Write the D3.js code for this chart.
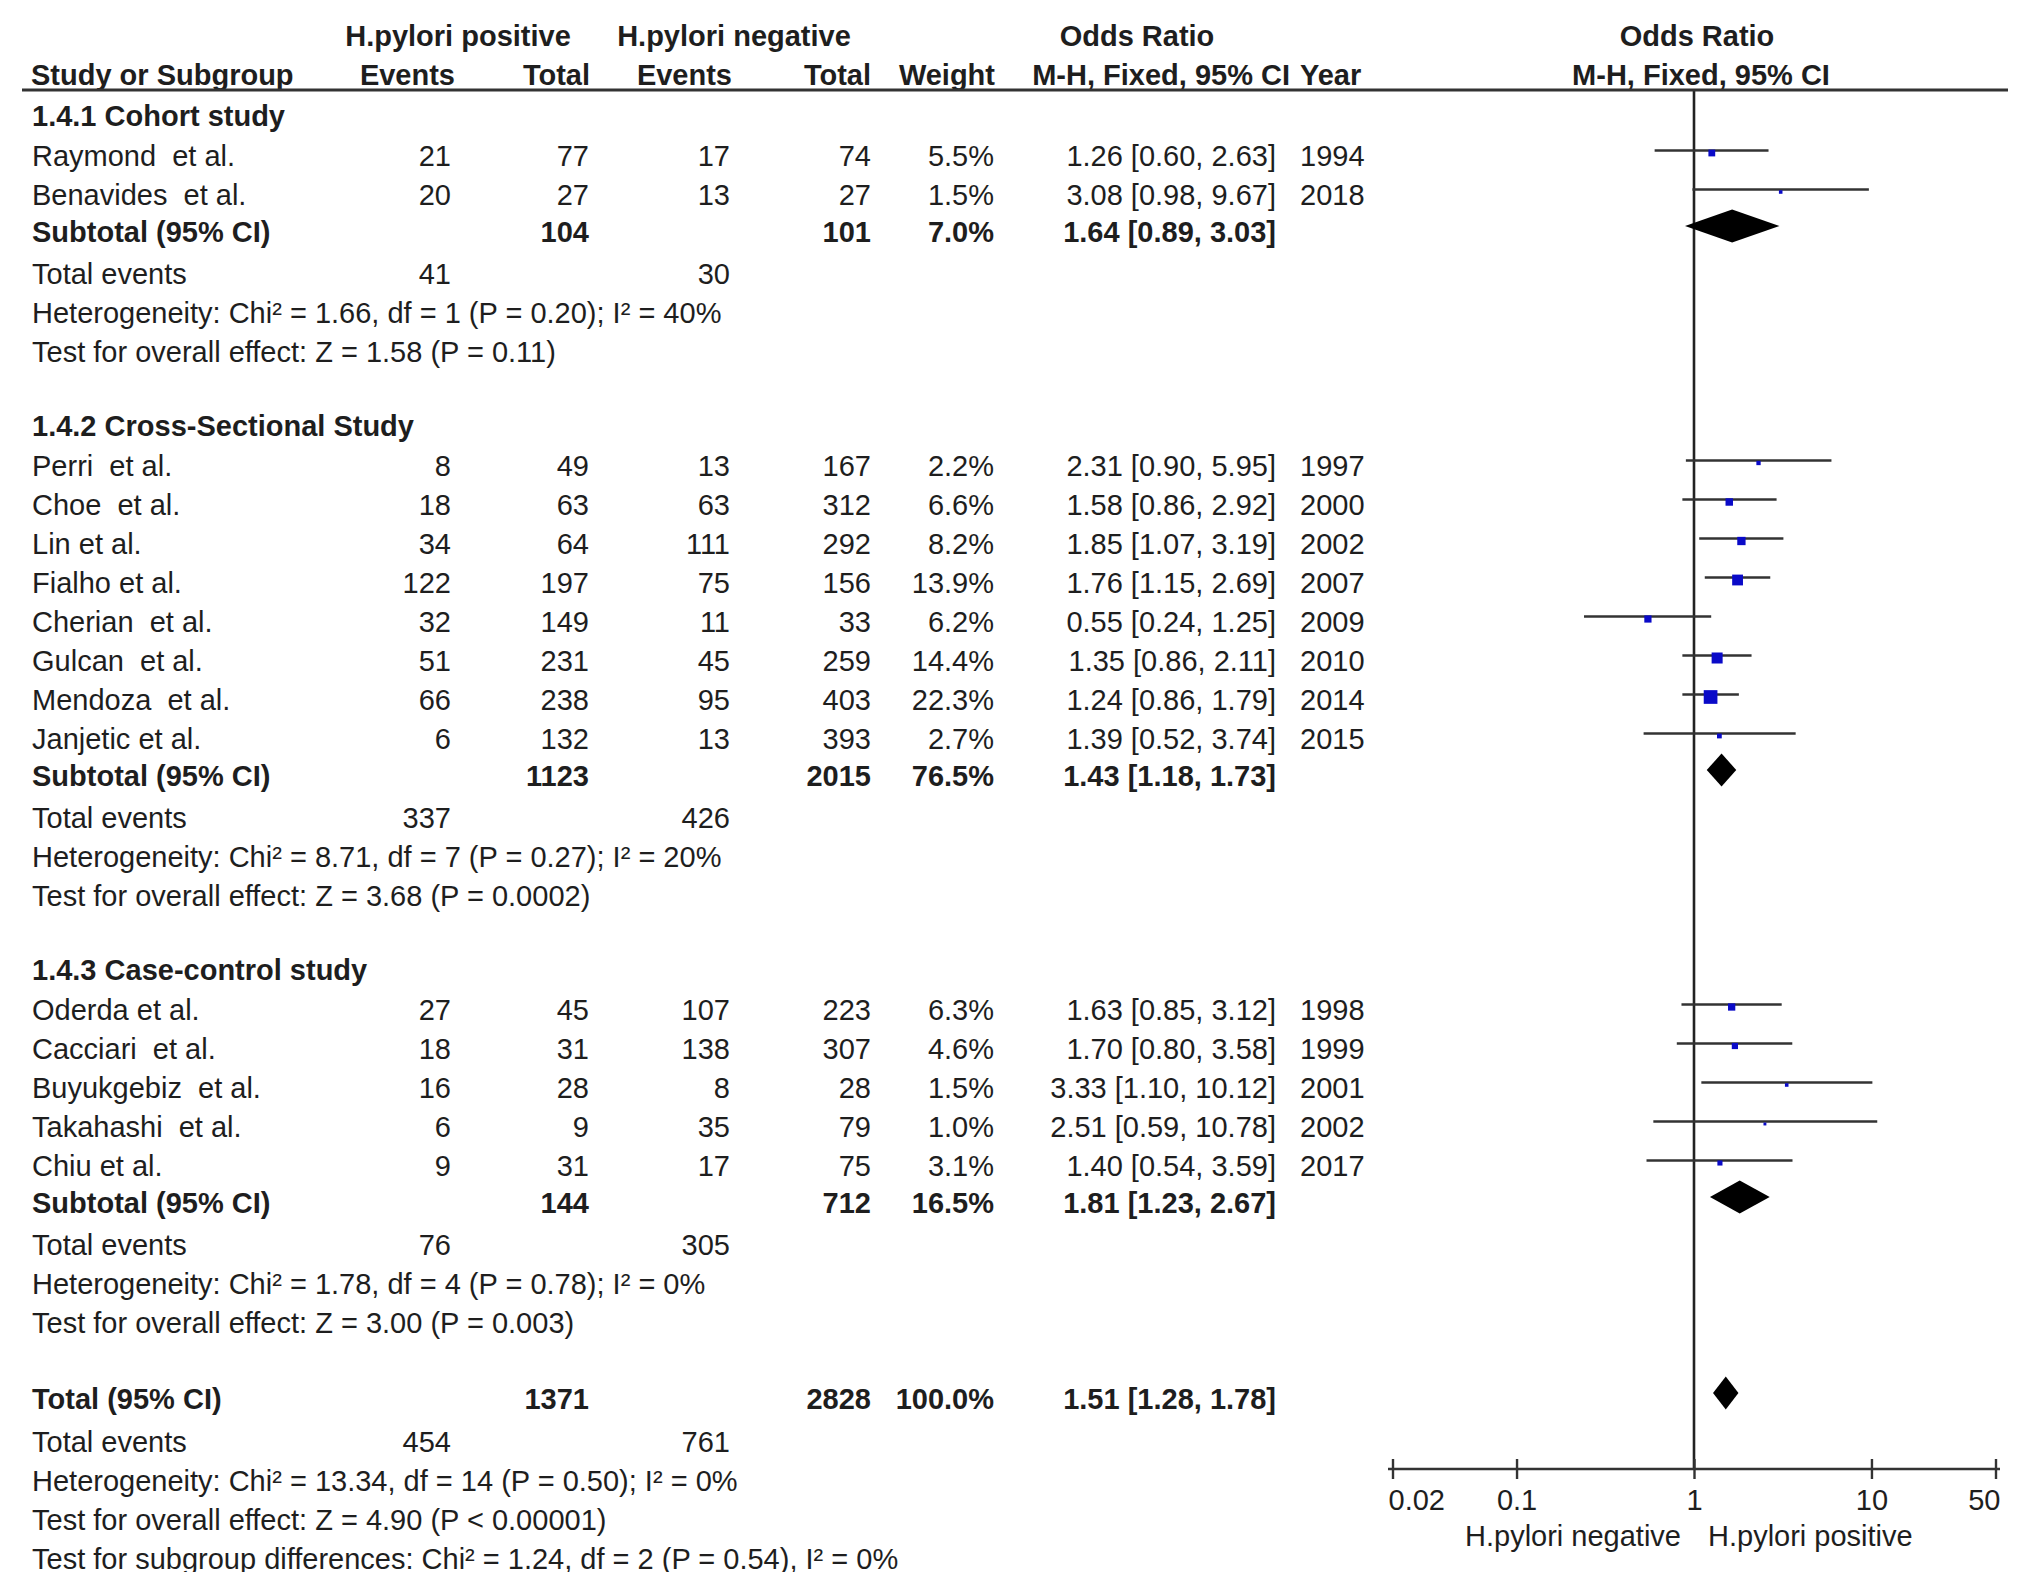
<!DOCTYPE html>
<html>
<head>
<meta charset="utf-8">
<script src="https://d3js.org/d3.v7.min.js"></script>
<style>
  body { margin: 0; background: #fff; }
  svg text { font-family: "Liberation Sans", Arial, sans-serif; font-size: 29px; fill: #1e1e1e; white-space: pre; }
  .b { font-weight: bold; }
</style>
</head>
<body>
<div id="chart"></div>
<script>
// ---- data ----
var groupNames = ["1.4.1 Cohort study", "1.4.2 Cross-Sectional Study", "1.4.3 Case-control study"];

var studyNames = ["Raymond  et al.", "Benavides  et al.",
  "Perri  et al.", "Choe  et al.", "Lin et al.", "Fialho et al.", "Cherian  et al.", "Gulcan  et al.", "Mendoza  et al.", "Janjetic et al.",
  "Oderda et al.", "Cacciari  et al.", "Buyukgebiz  et al.", "Takahashi  et al.", "Chiu et al."];
var studyGroup = [0, 0, 1, 1, 1, 1, 1, 1, 1, 1, 2, 2, 2, 2, 2];
var posEvents = [21, 20, 8, 18, 34, 122, 32, 51, 66, 6, 27, 18, 16, 6, 9];
var posTotal = [77, 27, 49, 63, 64, 197, 149, 231, 238, 132, 45, 31, 28, 9, 31];
var negEvents = [17, 13, 13, 63, 111, 75, 11, 45, 95, 13, 107, 138, 8, 35, 17];
var negTotal = [74, 27, 167, 312, 292, 156, 33, 259, 403, 393, 223, 307, 28, 79, 75];
var weights = [5.5, 1.5, 2.2, 6.6, 8.2, 13.9, 6.2, 14.4, 22.3, 2.7, 6.3, 4.6, 1.5, 1.0, 3.1];
var oddsRatio = [1.26, 3.08, 2.31, 1.58, 1.85, 1.76, 0.55, 1.35, 1.24, 1.39, 1.63, 1.70, 3.33, 2.51, 1.40];
var ciLow = [0.60, 0.98, 0.90, 0.86, 1.07, 1.15, 0.24, 0.86, 0.86, 0.52, 0.85, 0.80, 1.10, 0.59, 0.54];
var ciHigh = [2.63, 9.67, 5.95, 2.92, 3.19, 2.69, 1.25, 2.11, 1.79, 3.74, 3.12, 3.58, 10.12, 10.78, 3.59];
var years = [1994, 2018, 1997, 2000, 2002, 2007, 2009, 2010, 2014, 2015, 1998, 1999, 2001, 2002, 2017];

var subPosTotal = [104, 1123, 144];
var subNegTotal = [101, 2015, 712];
var subWeight = [7.0, 76.5, 16.5];
var subOR = [1.64, 1.43, 1.81];
var subLow = [0.89, 1.18, 1.23];
var subHigh = [3.03, 1.73, 2.67];
var subPosEvents = [41, 337, 76];
var subNegEvents = [30, 426, 305];
var subHetero = ["Heterogeneity: Chi² = 1.66, df = 1 (P = 0.20); I² = 40%",
  "Heterogeneity: Chi² = 8.71, df = 7 (P = 0.27); I² = 20%",
  "Heterogeneity: Chi² = 1.78, df = 4 (P = 0.78); I² = 0%"];
var subEffect = ["Test for overall effect: Z = 1.58 (P = 0.11)",
  "Test for overall effect: Z = 3.68 (P = 0.0002)",
  "Test for overall effect: Z = 3.00 (P = 0.003)"];

var total = { posTotal: 1371, negTotal: 2828, weight: 100.0, or: 1.51, low: 1.28, high: 1.78, posEvents: 454, negEvents: 761 };
var totalNotes = ["Heterogeneity: Chi² = 13.34, df = 14 (P = 0.50); I² = 0%",
  "Test for overall effect: Z = 4.90 (P < 0.00001)",
  "Test for subgroup differences: Chi² = 1.24, df = 2 (P = 0.54), I² = 0%"];

var axisTicks = [0.02, 0.1, 1, 10, 50];
var axisTickLabels = ["0.02", "0.1", "1", "10", "50"];
var favourLabels = ["H.pylori negative", "H.pylori positive"];

// ---- layout ----
var W = 2031, H = 1591;
var col = { name: 32, evP: 451, totP: 589, evN: 730, totN: 871, wt: 994, or: 1276, year: 1300 };
var axisY = 1469, headY = 90;

var f2 = d3.format(".2f"), f1 = d3.format(".1f");
function orText(o, l, h) { return f2(o) + " [" + f2(l) + ", " + f2(h) + "]"; }

var x = d3.scaleLog().domain([0.02, 50]).range([1392.5, 1995.5]);

var svg = d3.select("#chart").append("svg").attr("width", W).attr("height", H);
svg.append("rect").attr("width", W).attr("height", H).attr("fill", "#fff");
svg.append("clipPath").attr("id", "clip").append("rect").attr("width", W).attr("height", 1572);
var g = svg.append("g").attr("clip-path", "url(#clip)");

function txt(xp, y, s, anchor, bold) {
  return g.append("text").attr("x", xp).attr("y", y).attr("text-anchor", anchor || "start")
    .attr("class", bold ? "b" : null).text(s);
}

// header
txt(458, 46, "H.pylori positive", "middle", true);
txt(734, 46, "H.pylori negative", "middle", true);
txt(1137, 46, "Odds Ratio", "middle", true);
txt(1697, 46, "Odds Ratio", "middle", true);
txt(col.name - 1, 85, "Study or Subgroup", "start", true);
txt(455, 85, "Events", "end", true);
txt(590, 85, "Total", "end", true);
txt(732, 85, "Events", "end", true);
txt(871, 85, "Total", "end", true);
txt(995, 85, "Weight", "end", true);
txt(1290, 85, "M-H, Fixed, 95% CI", "end", true);
txt(1300, 85, "Year", "start", true);
txt(1701, 85, "M-H, Fixed, 95% CI", "middle", true);

// null line
g.append("line").attr("x1", x(1)).attr("x2", x(1)).attr("y1", headY).attr("y2", axisY)
  .attr("stroke", "#222").attr("stroke-width", 2.6);
g.append("line").attr("x1", 22).attr("x2", 2008).attr("y1", headY).attr("y2", headY)
  .attr("stroke", "#333").attr("stroke-width", 3);

function diamond(y, o, l, h) {
  var hh = 16.5;
  g.append("path")
    .attr("d", "M" + x(l) + "," + y + "L" + x(o) + "," + (y - hh) + "L" + x(h) + "," + y + "L" + x(o) + "," + (y + hh) + "Z")
    .attr("fill", "#000");
}

var y = 125.5;
groupNames.forEach(function (gname, gi) {
  if (gi > 0) y += 74;
  txt(col.name, y, gname, "start", true);
  var idx = d3.range(studyNames.length).filter(function (i) { return studyGroup[i] === gi; });
  idx.forEach(function (i, k) {
    y += (k === 0) ? 40 : 39;
    txt(col.name, y, studyNames[i]);
    txt(col.evP, y, posEvents[i], "end");
    txt(col.totP, y, posTotal[i], "end");
    txt(col.evN, y, negEvents[i], "end");
    txt(col.totN, y, negTotal[i], "end");
    txt(col.wt, y, f1(weights[i]) + "%", "end");
    txt(col.or, y, orText(oddsRatio[i], ciLow[i], ciHigh[i]), "end");
    txt(col.year, y, years[i]);
    var ly = y - 15;
    g.append("line").attr("x1", x(ciLow[i])).attr("x2", x(ciHigh[i])).attr("y1", ly).attr("y2", ly)
      .attr("stroke", "#333").attr("stroke-width", 2.6);
    var s = 2.9 * Math.sqrt(weights[i]);
    g.append("rect").attr("x", x(oddsRatio[i]) - s / 2).attr("y", ly + 2.5 - s / 2)
      .attr("width", s).attr("height", s).attr("fill", "#0a0ac8");
  });
  y += 37;
  txt(col.name, y, "Subtotal (95% CI)", "start", true);
  txt(col.totP, y, subPosTotal[gi], "end", true);
  txt(col.totN, y, subNegTotal[gi], "end", true);
  txt(col.wt, y, f1(subWeight[gi]) + "%", "end", true);
  txt(col.or, y, orText(subOR[gi], subLow[gi], subHigh[gi]), "end", true);
  diamond(y - 15.5, subOR[gi], subLow[gi], subHigh[gi]);
  y += 42;
  txt(col.name, y, "Total events");
  txt(col.evP, y, subPosEvents[gi], "end");
  txt(col.evN, y, subNegEvents[gi], "end");
  y += 39;
  txt(col.name, y, subHetero[gi]);
  y += 39;
  txt(col.name, y, subEffect[gi]);
});

y += 76;
txt(col.name, y, "Total (95% CI)", "start", true);
txt(col.totP, y, total.posTotal, "end", true);
txt(col.totN, y, total.negTotal, "end", true);
txt(col.wt, y, f1(total.weight) + "%", "end", true);
txt(col.or, y, orText(total.or, total.low, total.high), "end", true);
diamond(y - 15.5, total.or, total.low, total.high);
y += 43;
txt(col.name, y, "Total events");
txt(col.evP, y, total.posEvents, "end");
txt(col.evN, y, total.negEvents, "end");
totalNotes.forEach(function (n) { y += 39; txt(col.name, y, n); });

// axis
var ax = g.append("g").attr("transform", "translate(0," + axisY + ")")
  .call(d3.axisBottom(x).tickValues(axisTicks).tickSize(10).tickSizeOuter(0)
    .tickFormat(function (d, i) { return axisTickLabels[i]; }));
ax.select(".domain").remove();
ax.append("line").attr("x1", x.range()[0] - 4.5).attr("x2", x.range()[1] + 4.5)
  .attr("stroke", "#333").attr("stroke-width", 2.6);
ax.selectAll(".tick line").attr("y1", -10).attr("y2", 10).attr("stroke", "#333").attr("stroke-width", 2.4);
ax.selectAll(".tick text").attr("y", 41).attr("dy", null)
  .attr("font-size", null).attr("font-family", null).attr("fill", null)
  .attr("text-anchor", function (d, i) { return i === 0 ? "start" : (i === axisTicks.length - 1 ? "end" : "middle"); })
  .attr("dx", function (d, i) { return i === 0 ? -4.5 : (i === axisTicks.length - 1 ? 4.5 : 0); });
txt(x(1) - 13, 1546, favourLabels[0], "end");
txt(x(1) + 14, 1546, favourLabels[1], "start");
</script>
</body>
</html>
